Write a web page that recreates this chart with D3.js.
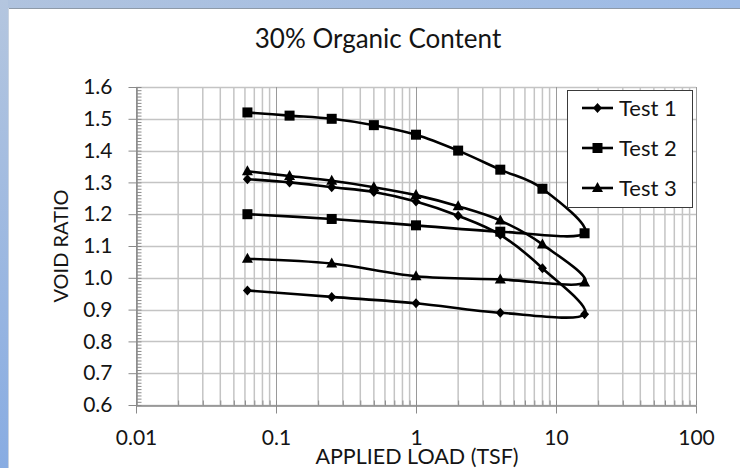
<!DOCTYPE html>
<html>
<head>
<meta charset="utf-8">
<script src="https://cdn.jsdelivr.net/npm/d3@7"></script>
<style>
  html, body { margin: 0; padding: 0; background: #fff; }
  svg { display: block; font-family: Lato, "Open Sans", sans-serif; }
</style>
</head>
<body>
<svg id="chart" width="740" height="468"></svg>
<script>
// Applied load steps (TSF): loading up to 16, then unloading
const loads = [0.0625, 0.125, 0.25, 0.5, 1, 2, 4, 8, 16, 4, 1, 0.25, 0.0625];
const test1 = [1.31, 1.30, 1.285, 1.27, 1.24, 1.195, 1.135, 1.03, 0.885, 0.89, 0.92, 0.94, 0.96];
const test2 = [1.52, 1.51, 1.50, 1.48, 1.45, 1.40, 1.34, 1.28, 1.14, 1.145, 1.165, 1.185, 1.20];
const test3 = [1.335, 1.32, 1.305, 1.285, 1.26, 1.225, 1.18, 1.105, 0.985, 0.995, 1.005, 1.045, 1.06];
const seriesNames = ["Test 1", "Test 2", "Test 3"];
const seriesMarkers = ["diamond", "square", "triangle"];
const xTickValues = [0.01, 0.1, 1, 10, 100];
const xTickLabels = ["0.01", "0.1", "1", "10", "100"];
const yTickValues = [0.6, 0.7, 0.8, 0.9, 1.0, 1.1, 1.2, 1.3, 1.4, 1.5, 1.6];
const titleText = "30% Organic Content";
const xTitle = "APPLIED LOAD (TSF)";
const yTitle = "VOID RATIO";

const svg = d3.select("#chart");
const W = 740, H = 468;
const plot = { left: 136, right: 696, top: 87, bottom: 405 };
const textColor = "#141414";

// Window frame: blue strips on top and left
const defs = svg.append("defs");
const lg = defs.append("linearGradient").attr("id", "sideGrad")
  .attr("x1", 0).attr("y1", 0).attr("x2", 0).attr("y2", 1);
lg.append("stop").attr("offset", "0%").attr("stop-color", "#b4c6df");
lg.append("stop").attr("offset", "100%").attr("stop-color", "#88ace2");
const tg = defs.append("linearGradient").attr("id", "topGrad")
  .attr("x1", 0).attr("y1", 0).attr("x2", 1).attr("y2", 0);
tg.append("stop").attr("offset", "0%").attr("stop-color", "#b0c3de");
tg.append("stop").attr("offset", "100%").attr("stop-color", "#9dbbe6");
svg.append("rect").attr("x", 0).attr("y", 0).attr("width", W).attr("height", 8).attr("fill", "url(#topGrad)");
svg.append("rect").attr("x", 0).attr("y", 0).attr("width", 8).attr("height", H).attr("fill", "url(#sideGrad)");
svg.append("line").attr("x1", 8).attr("x2", W).attr("y1", 8.5).attr("y2", 8.5)
  .attr("stroke", "#8e9aa8").attr("stroke-width", 1);
svg.append("line").attr("x1", 8.5).attr("x2", 8.5).attr("y1", 8).attr("y2", H)
  .attr("stroke", "#c9d3e0").attr("stroke-width", 1);

const x = d3.scaleLog().domain([0.01, 100]).range([plot.left, plot.right]);
const y = d3.scaleLinear().domain([0.6, 1.6]).range([plot.bottom, plot.top]);

// Gridlines
const grid = svg.append("g");
const logTicks = x.ticks();
const isMajor = v => Math.abs(Math.log10(v) - Math.round(Math.log10(v))) < 1e-9;
grid.selectAll("line.hg").data(yTickValues).join("line")
  .attr("x1", plot.left).attr("x2", plot.right)
  .attr("y1", d => Math.round(y(d)) + 0.5).attr("y2", d => Math.round(y(d)) + 0.5)
  .attr("stroke", "#c4c4c4").attr("stroke-width", 1.5);
grid.selectAll("line.vg").data(logTicks.filter(v => !isMajor(v))).join("line")
  .attr("y1", plot.top).attr("y2", plot.bottom)
  .attr("x1", d => x(d)).attr("x2", d => x(d))
  .attr("stroke", "#c4c4c4").attr("stroke-width", 1.5);
grid.selectAll("line.vm").data(logTicks.filter(isMajor)).join("line")
  .attr("y1", plot.top).attr("y2", plot.bottom)
  .attr("x1", d => Math.round(x(d)) + 0.5).attr("x2", d => Math.round(x(d)) + 0.5)
  .attr("stroke", "#9a9a9a").attr("stroke-width", 1);

// Axes
const axisColor = "#8a8a8a";
const fontSize = 21;
const yAxis = svg.append("g").attr("transform", `translate(${plot.left + 0.5},0)`)
  .call(d3.axisLeft(y).tickValues(yTickValues).tickFormat(d3.format(".1f"))
    .tickSize(8).tickSizeOuter(0).tickPadding(16));
const yMinor = svg.append("g").attr("transform", `translate(${plot.left + 0.5},0)`)
  .call(d3.axisLeft(y).tickValues(d3.range(60, 161).map(v => v / 100))
    .tickFormat("").tickSize(-5).tickSizeOuter(0));
const xAxis = svg.append("g").attr("transform", `translate(0,${plot.bottom + 0.5})`)
  .call(d3.axisBottom(x).tickValues(xTickValues).tickFormat((d, i) => xTickLabels[i])
    .tickSize(8).tickSizeOuter(0).tickPadding(17));
const xMinor = svg.append("g").attr("transform", `translate(0,${plot.bottom + 0.5})`)
  .call(d3.axisBottom(x).tickValues(logTicks).tickFormat("").tickSize(-5).tickSizeOuter(0));
[yAxis, yMinor, xAxis, xMinor].forEach(g => {
  g.selectAll(".domain").attr("stroke", axisColor).attr("stroke-width", 1);
  g.selectAll(".tick line").attr("stroke", axisColor).attr("stroke-width", 1);
  g.selectAll("text").attr("fill", textColor).style("font-size", fontSize + "px")
    .style("font-family", "Lato, sans-serif");
});

// Titles
svg.append("text").attr("x", 378).attr("y", 48).attr("text-anchor", "middle")
  .style("font-size", "26px").attr("fill", textColor).text(titleText);
svg.append("text").attr("x", 417).attr("y", 464).attr("text-anchor", "middle")
  .style("font-size", "21.5px").attr("fill", textColor).text(xTitle);
svg.append("text").attr("transform", `translate(68,${(plot.top + plot.bottom) / 2}) rotate(-90)`)
  .attr("text-anchor", "middle").style("font-size", "20px").attr("fill", textColor).text(yTitle);

// Markers
function marker(g, type, cx, cy) {
  if (type === "diamond") {
    g.append("path").attr("d", `M${cx},${cy - 5}L${cx + 4.5},${cy}L${cx},${cy + 5}L${cx - 4.5},${cy}Z`);
  } else if (type === "square") {
    g.append("rect").attr("x", cx - 5).attr("y", cy - 5).attr("width", 10).attr("height", 10);
  } else {
    g.append("path").attr("d", `M${cx},${cy - 6}L${cx + 5.5},${cy + 4}L${cx - 5.5},${cy + 4}Z`);
  }
}

// Series curves
const allSeries = [test1, test2, test3];
const line = d3.line().x(d => x(d[0])).y(d => y(d[1])).curve(d3.curveCardinal.tension(0));
const seriesG = svg.append("g");
allSeries.forEach((vals, si) => {
  const pts = loads.map((l, i) => [l, vals[i]]);
  seriesG.append("path").attr("d", line(pts)).attr("fill", "none")
    .attr("stroke", "#000").attr("stroke-width", 2.6).attr("stroke-linejoin", "round");
  const mg = seriesG.append("g").attr("fill", "#000");
  pts.forEach(p => marker(mg, seriesMarkers[si], x(p[0]), y(p[1])));
});

// Legend
const legend = svg.append("g");
legend.append("rect").attr("x", 567.5).attr("y", 90.5).attr("width", 125).attr("height", 117)
  .attr("fill", "#fff").attr("stroke", "#3a3a3a").attr("stroke-width", 1);
seriesNames.forEach((name, i) => {
  const cy = 108 + i * 40;
  legend.append("line").attr("x1", 582).attr("x2", 613).attr("y1", cy).attr("y2", cy)
    .attr("stroke", "#000").attr("stroke-width", 2.6);
  const mg = legend.append("g").attr("fill", "#000");
  marker(mg, seriesMarkers[i], 597.5, cy);
  legend.append("text").attr("x", 619).attr("y", cy).attr("dy", "0.35em")
    .style("font-size", "22px").attr("fill", textColor).text(name);
});
</script>
</body>
</html>
